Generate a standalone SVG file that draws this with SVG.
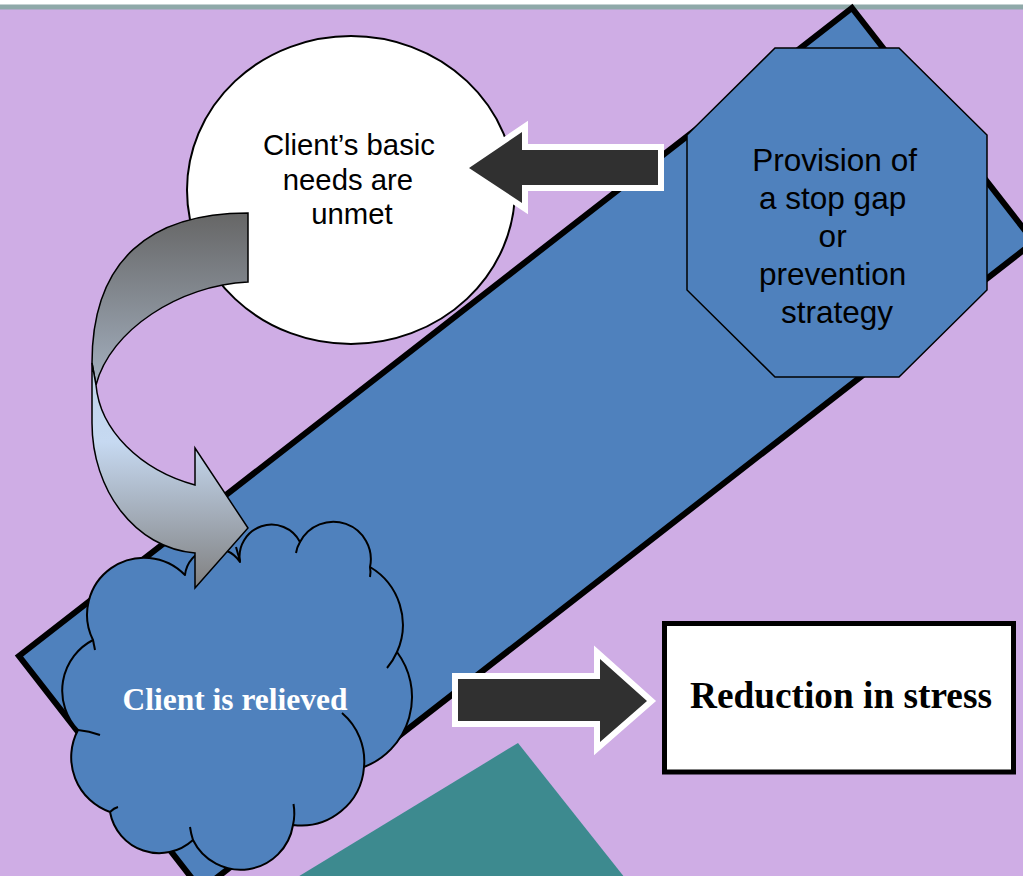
<svg xmlns="http://www.w3.org/2000/svg" width="1023" height="876" viewBox="0 0 1023 876">
  <style>
    .sans { font-family: "Liberation Sans", Arial, sans-serif; fill: #000; }
    .serifb { font-family: "Liberation Serif", "Times New Roman", serif; font-weight: bold; }
    .blue { fill: #4F81BD; }
    .thin { stroke: #000; stroke-width: 1.5; }
    .darr { fill: #303030; stroke: #FFFFFF; stroke-width: 12; stroke-linejoin: miter; paint-order: stroke; }
    .stub { fill: none; stroke: #000; stroke-width: 2; }
  </style>
  <defs>
    <linearGradient id="gUpper" x1="0" y1="0" x2="0" y2="1">
      <stop offset="0" stop-color="#666666"/>
      <stop offset="1" stop-color="#A3AFBE"/>
    </linearGradient>
    <linearGradient id="gLower" x1="0" y1="0" x2="0" y2="1">
      <stop offset="0" stop-color="#C0D3EA"/>
      <stop offset="0.35" stop-color="#C6D9F1"/>
      <stop offset="1" stop-color="#808080"/>
    </linearGradient>
  </defs>

  <!-- background -->
  <rect x="0" y="0" width="1023" height="876" fill="#CFADE5"/>
  <rect x="0" y="0" width="1023" height="4" fill="#FFFFFF"/>
  <rect x="0" y="4" width="1023" height="1" fill="#C5D2D2"/>
  <rect x="0" y="5" width="1023" height="4.5" fill="#8FA9A9"/>

  <!-- rotated background rectangle -->
  <g id="band">
    <polygon points="852,8 1034,242 201,890 19,656" fill="#4F81BD" stroke="#000" stroke-width="6" stroke-linejoin="miter"/>
  </g>

  <!-- teal triangle -->
  <g id="teal">
    <polygon points="518,743 625,878 296,878" fill="#3D8A8F"/>
  </g>

  <!-- circle node -->
  <g id="needs">
    <ellipse cx="351" cy="190" rx="164" ry="154" fill="#FFFFFF" stroke="#000" stroke-width="2"/>
    <text class="sans" font-size="29.3" text-anchor="middle">
      <tspan x="353" y="155">Client’s basic</tspan>
      <tspan x="352" y="190">needs are</tspan>
      <tspan x="352" y="224">unmet</tspan>
    </text>
  </g>

  <!-- octagon node -->
  <g id="provision">
    <polygon class="blue thin" points="775,48 899,48 987,135 987,290 899,377 775,377 687,290 687,135"/>
    <text class="sans" font-size="31.5" text-anchor="middle">
      <tspan x="839" y="170.7">Provision of</tspan>
      <tspan x="837" y="208.7">a stop gap</tspan>
      <tspan x="837" y="246.7">or</tspan>
      <tspan x="837" y="284.7">prevention</tspan>
      <tspan x="837" y="322.7">strategy</tspan>
    </text>
  </g>

  <!-- cloud node -->
  <g id="relieved">
    <path class="blue" stroke="#000" stroke-width="2" stroke-linejoin="round"
      d="M240,562 A32,32 0 0 1 300,542 A37.5,37.5 0 0 1 370,567 A67,67 0 0 1 397,652 A75,75 0 0 1 364,767 A63,63 0 0 1 293,825 A53,53 0 0 1 193,840 A50,50 0 0 1 110,812 A58,58 0 0 1 78,730 A57,57 0 0 1 93,640 A57,57 0 0 1 185,575 A30,30 0 0 1 240,562 Z"/>
    <path class="stub" d="M300,542 Q297,547 296,553"/>
    <path class="stub" d="M370,567 Q371,572 370,577"/>
    <path class="stub" d="M397,652 Q393,661 387,668"/>
    <path class="stub" d="M342,713 A63,63 0 0 1 364,767"/>
    <path class="stub" d="M293.5,804 A53,53 0 0 1 293,825"/>
    <path class="stub" d="M193,840 Q191,834 190,827"/>
    <path class="stub" d="M110,812 Q114,808 118,807"/>
    <path class="stub" d="M78,730 Q89,731 100,735"/>
    <path class="stub" d="M93,640 Q94,645 95,650"/>
    <path class="stub" d="M240,561 L236,547"/>
    <text class="serifb" font-size="31.5" fill="#FFFFFF" text-anchor="middle" x="235" y="710">Client is relieved</text>
  </g>

  <!-- reduction box -->
  <g id="reduction">
    <rect x="664.5" y="623.5" width="349" height="148.5" fill="#FFFFFF" stroke="#000" stroke-width="5"/>
    <text class="serifb" font-size="37.3" fill="#000" text-anchor="middle" x="841" y="708">Reduction in stress</text>
  </g>

  <!-- connectors -->
  <g id="connectors">
    <!-- curved arrow: needs -> relieved -->
    <path d="M248,213 C150,213 92,260 92,363 L96,385 C110,330 180,285 248,282 Z" fill="url(#gUpper)" class="thin"/>
    <path d="M92,363 L92,423 C92,490 135,548 195,553 L195,588 L248,528 L195,448 L195,485 C140,470 100,430 96,385 Z" fill="url(#gLower)" class="thin" stroke-linejoin="miter"/>
    <!-- block arrow: provision -> needs -->
    <polygon class="darr" points="469,168 522,132 522,150 658,150 658,185 522,185 522,203"/>
    <!-- block arrow: relieved -> reduction -->
    <polygon class="darr" points="458,679 600,679 600,659 647,701 600,742 600,721 458,721"/>
  </g>
</svg>
